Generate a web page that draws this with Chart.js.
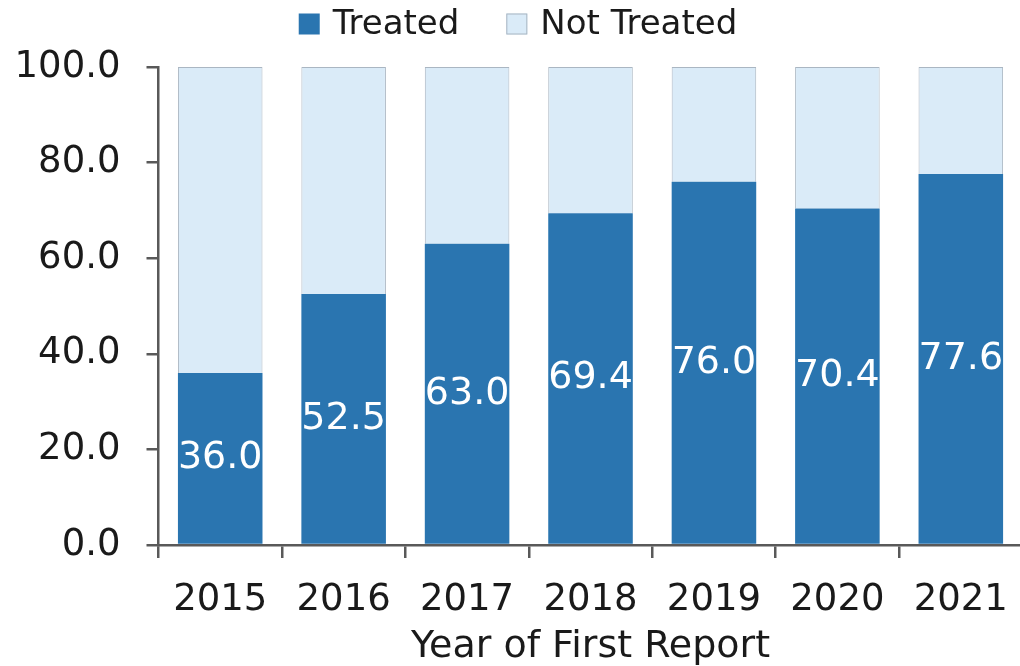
<!DOCTYPE html>
<html><head><meta charset="utf-8">
<script src="https://cdn.jsdelivr.net/npm/chart.js@4.4.0/dist/chart.umd.min.js"></script>
<style>
html,body{margin:0;padding:0;background:#fff;overflow:hidden;}
#wrap{width:1028px;height:666px;position:relative;}
</style></head><body>
<div id="wrap"><canvas id="c"></canvas></div>
<script>
const categories = ['2015','2016','2017','2018','2019','2020','2021'];
const treated = [36.0, 52.5, 63.0, 69.4, 76.0, 70.4, 77.6];
const notTreated = [64.0, 47.5, 37.0, 30.6, 24.0, 29.6, 22.4];
const seriesNames = ['Treated', 'Not Treated'];
const yTickValues = [0, 20, 40, 60, 80, 100];
const xTitle = 'Year of First Report';

const FAMILY = '"DejaVu Sans", sans-serif';
const TREATED_COLOR = '#2A75B0';
const NOT_COLOR = '#DAEBF8';
const NOT_BORDER = '#AAB6C2';
const AXIS_COLOR = '#595959';
const TEXT_COLOR = '#1a1a1a';

const labelPlugin = {
  id: 'barLabels',
  afterDatasetsDraw(chart) {
    const ctx = chart.ctx;
    const meta = chart.getDatasetMeta(0);
    ctx.save();
    ctx.fillStyle = '#ffffff';
    ctx.font = '38px ' + FAMILY;
    ctx.textAlign = 'center';
    ctx.textBaseline = 'middle';
    meta.data.forEach((bar, i) => {
      const y = (bar.y + bar.base) / 2;
      ctx.fillText(treated[i].toFixed(1), bar.x, y);
    });
    ctx.restore();
  }
};

const legendPlugin = {
  id: 'customLegend',
  afterDraw(chart) {
    const ctx = chart.ctx;
    ctx.save();
    ctx.font = '34px ' + FAMILY;
    const box = 21, gap = 13, itemGap = 47;
    const w0 = ctx.measureText(seriesNames[0]).width;
    const w1 = ctx.measureText(seriesNames[1]).width;
    const total = box + gap + w0 + itemGap + box + gap + w1;
    let x = 518 - total / 2;
    const cy = 24;
    ctx.textBaseline = 'middle';
    ctx.textAlign = 'left';
    ctx.fillStyle = TREATED_COLOR;
    ctx.fillRect(x, cy - box / 2, box, box);
    ctx.fillStyle = TEXT_COLOR;
    ctx.fillText(seriesNames[0], x + box + gap, cy + 1);
    x += box + gap + w0 + itemGap;
    ctx.fillStyle = NOT_COLOR;
    ctx.fillRect(x, cy - box / 2, box, box);
    ctx.strokeStyle = NOT_BORDER;
    ctx.lineWidth = 1;
    ctx.strokeRect(x + 0.5, cy - box / 2 + 0.5, box - 1, box - 1);
    ctx.fillStyle = TEXT_COLOR;
    ctx.fillText(seriesNames[1], x + box + gap, cy + 1);
    ctx.restore();
  }
};

new Chart(document.getElementById('c'), {
  type: 'bar',
  data: {
    labels: categories,
    datasets: [
      { label: seriesNames[0], data: treated, backgroundColor: TREATED_COLOR, borderWidth: 0,
        barPercentage: 0.685, categoryPercentage: 1.0 },
      { label: seriesNames[1], data: notTreated, backgroundColor: NOT_COLOR, borderColor: NOT_BORDER, borderWidth: 1,
        barPercentage: 0.685, categoryPercentage: 1.0 }
    ]
  },
  options: {
    responsive: true,
    maintainAspectRatio: false,
    animation: false,
    layout: { padding: { top: 67, left: 0, right: 1.5, bottom: 0 } },
    plugins: { legend: { display: false }, tooltip: { enabled: false } },
    scales: {
      x: {
        stacked: true,
        grid: { offset: true, drawOnChartArea: false, drawTicks: true, tickLength: 13, color: AXIS_COLOR, lineWidth: 2.5 },
        border: { color: AXIS_COLOR, width: 2.5 },
        ticks: { font: { size: 37, family: FAMILY }, color: TEXT_COLOR, padding: 20, maxRotation: 0 },
        title: { display: true, text: xTitle, font: { size: 38, family: FAMILY, lineHeight: 1.0 }, color: TEXT_COLOR, padding: { top: 0, bottom: 0 } },
        afterFit(scale) { scale.height = 121; }
      },
      y: {
        stacked: true,
        min: 0, max: 100,
        afterBuildTicks(scale) { scale.ticks = yTickValues.map(v => ({ value: v })); },
        grid: { drawOnChartArea: false, drawTicks: true, tickLength: 12, color: AXIS_COLOR, lineWidth: 2.5 },
        border: { color: AXIS_COLOR, width: 2.5 },
        ticks: { font: { size: 37, family: FAMILY }, color: TEXT_COLOR, padding: 26,
                 callback: (v) => Number(v).toFixed(1) },
        afterFit(scale) { scale.width = 158.5; }
      }
    }
  },
  plugins: [labelPlugin, legendPlugin]
});
</script>
</body></html>
